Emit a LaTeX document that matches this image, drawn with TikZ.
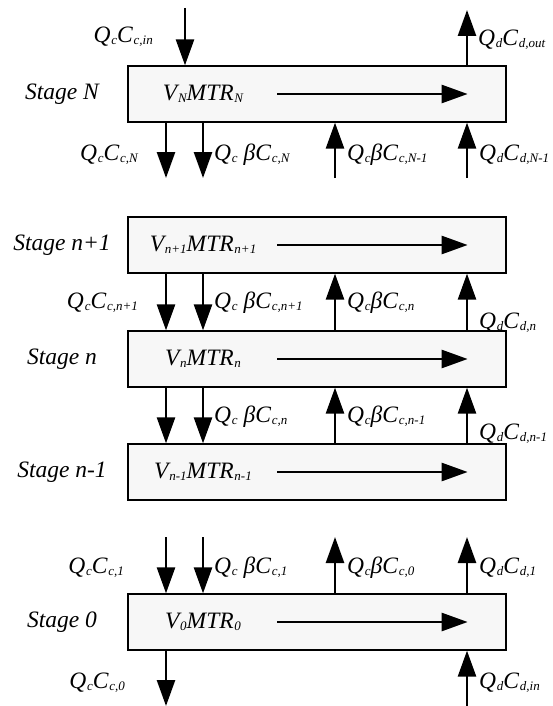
\documentclass[tikz,border=0pt]{standalone}
\usepackage{fontspec}
\setmainfont{Liberation Serif}
\usetikzlibrary{arrows.meta}
\newcommand{\lo}[1]{\kern0.8pt\raisebox{-1.5pt}{\fontsize{13}{14}\selectfont #1}}
\begin{document}
\begin{tikzpicture}[x=1pt, y=-1pt, font=\fontsize{23.5}{27}\selectfont\itshape,
  stagebox/.style={draw, line width=1.3pt, fill=gray!6, minimum width=378pt, minimum height=56pt, inner sep=0pt},
  flow/.style={line width=2.6pt, -{Triangle[length=26pt,width=18pt]}},
  lab/.style={inner sep=0pt, anchor=west},
  rlab/.style={inner sep=0pt, anchor=east}]

\useasboundingbox (0,0) rectangle (553,706);

% columns of the streams
\coordinate (k1) at (166,0);
\coordinate (k2) at (203,0);
\coordinate (k3) at (335,0);
\coordinate (k4) at (467,0);

% stages
\node[stagebox] (bN)  at (317,94)  {};
\node[stagebox] (bn1) at (317,245) {};
\node[stagebox] (bn)  at (317,359) {};
\node[stagebox] (bm1) at (317,472) {};
\node[stagebox] (b0)  at (317,622) {};

\node (sN)  at (62,94)  {Stage N};
\node (sn1) at (62,245) {Stage n+1};
\node (sn)  at (62,359) {Stage n};
\node (sm1) at (62,472) {Stage n-1};
\node (s0)  at (62,622) {Stage 0};

\node (tN)  at (203,94)  {V\lo{N}MTR\lo{N}};
\node (tn1) at (203,245) {V\lo{n+1}MTR\lo{n+1}};
\node (tn)  at (203,359) {V\lo{n}MTR\lo{n}};
\node (tm1) at (203,472) {V\lo{n-1}MTR\lo{n-1}};
\node (t0)  at (203,622) {V\lo{0}MTR\lo{0}};

\foreach \b in {bN,bn1,bn,bm1,b0}
  \draw[flow] ([xshift=150pt]\b.west) -- ([xshift=-39pt]\b.east);

% stage N
\coordinate (inN) at (185,8);
\coordinate (outN) at (467,10);
\coordinate (botN) at (0,178);
\draw[flow] (inN) -- (inN |- bN.north);
\draw[flow] (bN.north -| outN) -- (outN);
\draw[flow] (bN.south -| k1) -- (k1 |- botN);
\draw[flow] (bN.south -| k2) -- (k2 |- botN);
\draw[flow] (k3 |- botN) -- (bN.south -| k3);
\draw[flow] (k4 |- botN) -- (bN.south -| k4);

% stages n+1, n, n-1
\foreach \a/\b in {bn1/bn, bn/bm1} {
  \draw[flow] (\a.south -| k1) -- (\b.north -| k1);
  \draw[flow] (\a.south -| k2) -- (\b.north -| k2);
  \draw[flow] (\b.north -| k3) -- (\a.south -| k3);
  \draw[flow] (\b.north -| k4) -- (\a.south -| k4);
}

% stage 0
\coordinate (top0) at (0,537);
\coordinate (bot0) at (0,706);
\draw[flow] (k1 |- top0) -- (b0.north -| k1);
\draw[flow] (k2 |- top0) -- (b0.north -| k2);
\draw[flow] (b0.north -| k3) -- (k3 |- top0);
\draw[flow] (b0.north -| k4) -- (k4 |- top0);
\draw[flow] (b0.south -| k1) -- (k1 |- bot0);
\draw[flow] (k4 |- bot0) -- (b0.south -| k4);

% labels
\node[rlab] (lNin) at (153,37) {Q\lo{c}C\lo{c,in}};
\node[lab] (lNout) at (478,40) {Q\lo{d}C\lo{d,out}};
\node[rlab] (lN1) at (138,155) {Q\lo{c}C\lo{c,N}};
\node[lab] (lN2) at (214,155) {Q\lo{c} βC\lo{c,N}};
\node[lab] (lN3) at (347,155) {Q\lo{c}βC\lo{c,N-1}};
\node[lab] (lN4) at (479,155) {Q\lo{d}C\lo{d,N-1}};

\node[rlab] (ln1) at (138,303) {Q\lo{c}C\lo{c,n+1}};
\node[lab] (ln2) at (214,303) {Q\lo{c} βC\lo{c,n+1}};
\node[lab] (ln3) at (347,303) {Q\lo{c}βC\lo{c,n}};
\node[lab] (ln4) at (479,323) {Q\lo{d}C\lo{d,n}};

\node[lab] (lm2) at (214,417) {Q\lo{c} βC\lo{c,n}};
\node[lab] (lm3) at (347,417) {Q\lo{c}βC\lo{c,n-1}};
\node[lab] (lm4) at (479,434) {Q\lo{d}C\lo{d,n-1}};

\node[rlab] (l01) at (124,568) {Q\lo{c}C\lo{c,1}};
\node[lab] (l02) at (214,568) {Q\lo{c} βC\lo{c,1}};
\node[lab] (l03) at (347,568) {Q\lo{c}βC\lo{c,0}};
\node[lab] (l04) at (479,568) {Q\lo{d}C\lo{d,1}};
\node[rlab] (l05) at (125,683) {Q\lo{c}C\lo{c,0}};
\node[lab] (l06) at (479,683) {Q\lo{d}C\lo{d,in}};

\end{tikzpicture}
\end{document}
